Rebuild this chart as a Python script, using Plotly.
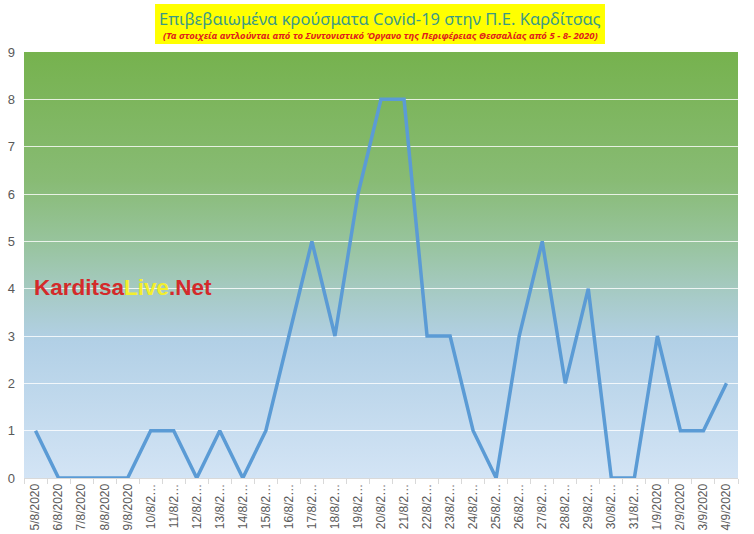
import base64

import plotly.graph_objects as go

# --- data ---
dates = [
    "5/8/2020", "6/8/2020", "7/8/2020", "8/8/2020", "9/8/2020", "10/8/2020",
    "11/8/2020", "12/8/2020", "13/8/2020", "14/8/2020", "15/8/2020", "16/8/2020",
    "17/8/2020", "18/8/2020", "19/8/2020", "20/8/2020", "21/8/2020", "22/8/2020",
    "23/8/2020", "24/8/2020", "25/8/2020", "26/8/2020", "27/8/2020", "28/8/2020",
    "29/8/2020", "30/8/2020", "31/8/2020", "1/9/2020", "2/9/2020", "3/9/2020",
    "4/9/2020",
]
cases = [1, 0, 0, 0, 0, 1, 1, 0, 1, 0, 1, 3, 5, 3, 6, 8, 8, 3, 3, 1, 0, 3, 5, 2,
         4, 0, 0, 3, 1, 1, 2]
tick_labels = [
    "5/8/2020", "6/8/2020", "7/8/2020", "8/8/2020", "9/8/2020", "10/8/2…",
    "11/8/2…", "12/8/2…", "13/8/2…", "14/8/2…", "15/8/2…", "16/8/2…",
    "17/8/2…", "18/8/2…", "19/8/2…", "20/8/2…", "21/8/2…", "22/8/2…",
    "23/8/2…", "24/8/2…", "25/8/2…", "26/8/2…", "27/8/2…", "28/8/2…",
    "29/8/2…", "30/8/2…", "31/8/2…", "1/9/2020", "2/9/2020", "3/9/2020",
    "4/9/2020",
]
y_ticks = list(range(0, 10))

TITLE = "Επιβεβαιωμένα κρούσματα Covid-19 στην Π.Ε. Καρδίτσας"
SUBTITLE = ("(Τα στοιχεία αντλούνται από το Συντονιστικό Όργανο της "
            "Περιφέρειας Θεσσαλίας από 5 - 8- 2020)")

# vertical gradient for the plot area (green top -> light blue bottom)
svg = """<svg xmlns='http://www.w3.org/2000/svg' width='10' height='100' preserveAspectRatio='none'>
<defs><linearGradient id='g' x1='0' y1='0' x2='0' y2='1'>
<stop offset='0' stop-color='#76b24e'/>
<stop offset='0.3' stop-color='#88bb74'/>
<stop offset='0.45' stop-color='#98c49e'/>
<stop offset='0.58' stop-color='#a8cbc9'/>
<stop offset='0.68' stop-color='#b2d0e6'/>
<stop offset='1' stop-color='#d3e4f5'/>
</linearGradient></defs>
<rect width='10' height='100' fill='url(#g)'/></svg>"""
bg_src = "data:image/svg+xml;base64," + base64.b64encode(svg.encode()).decode()

fig = go.Figure()
fig.add_trace(go.Scatter(
    x=dates, y=cases, mode="lines",
    line=dict(color="#5b9bd5", width=3.5),
    showlegend=False, hoverinfo="x+y",
))

fig.update_layout(
    width=754, height=534,
    margin=dict(l=24, r=16, t=52, b=56),
    paper_bgcolor="white",
    plot_bgcolor="white",
    font=dict(family="Liberation Sans, Arial, sans-serif", color="#595959"),
    xaxis=dict(
        type="category", automargin=False,
        range=[-0.5, len(dates) - 0.5],
        tickmode="array", tickvals=dates, ticktext=tick_labels,
        tickangle=-90, tickfont=dict(size=12, color="#595959"),
        showgrid=False, ticks="outside", tickson="boundaries",
        ticklen=5, tickcolor="#d9d9d9",
        showline=True, linecolor="#d9d9d9", linewidth=1,
        fixedrange=True,
    ),
    yaxis=dict(
        range=[0, 9], tickvals=y_ticks, automargin=False,
        tickfont=dict(size=13, color="#595959"),
        showgrid=True, gridcolor="rgba(255,255,255,0.8)", gridwidth=1,
        zeroline=False, showline=False, ticklabelstandoff=8,
        fixedrange=True,
    ),
    images=[dict(
        source=bg_src, xref="x domain", yref="y domain",
        x=0, y=1, sizex=1, sizey=1, xanchor="left", yanchor="top",
        sizing="stretch", layer="below",
    )],
    shapes=[dict(
        type="rect", xref="paper", yref="paper",
        x0=0.1835, x1=0.8137, y0=1.0188, y1=1.1127,
        fillcolor="#ffff00", line=dict(width=0), layer="below",
    )],
    annotations=[
        dict(text=TITLE, xref="paper", yref="paper", x=0.4986, y=1.0775,
             showarrow=False, xanchor="center", yanchor="middle",
             font=dict(family="Noto Sans, sans-serif", size=16.5, color="#3b9a86")),
        dict(text="<b><i>" + SUBTITLE + "</i></b>", xref="paper", yref="paper",
             x=0.4986, y=1.0376, showarrow=False, xanchor="center",
             yanchor="middle",
             font=dict(family="Noto Sans, sans-serif", size=9.5, color="#e0201c")),
        dict(text=("<b><span style='color:#d42a2a'>Karditsa</span>"
                   "<span style='color:#f3ef2c'>Live</span>"
                   "<span style='color:#d42a2a'>.Net</span></b>"),
             xref="paper", yref="paper", x=0.0112, y=0.448,
             showarrow=False, xanchor="left", yanchor="middle",
             font=dict(family="Liberation Sans, Arial, sans-serif", size=22.5)),
    ],
)

# drop the browser's default 8px body margin so the figure sits at 0,0
fig.write_html("out.html", config={"displayModeBar": False},
               post_script="document.body.style.margin='0px';")
